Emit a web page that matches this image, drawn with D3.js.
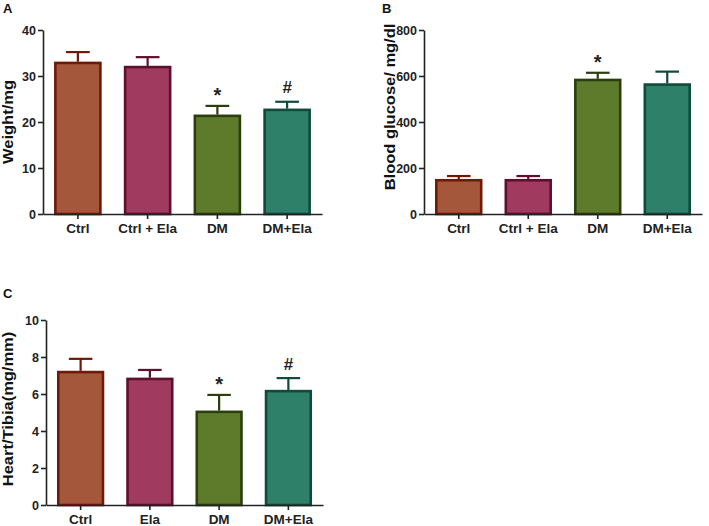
<!DOCTYPE html>
<html>
<head>
<meta charset="utf-8">
<script src="https://cdnjs.cloudflare.com/ajax/libs/d3/7.8.5/d3.min.js"></script>
<style>
	body { margin: 0; background: #fff; }
	svg { display: block; font-family: "Liberation Sans", Arial, sans-serif; font-weight: bold; }
	.axis path, .axis line { stroke: #222; stroke-width: 1.6px; }
	.axis text { fill: #222; font-size: 12.5px; font-weight: bold; }
</style>
</head>
<body>
<script>
(function() {

	// data
	var groupsAB = ["Ctrl", "Ctrl + Ela", "DM", "DM+Ela"];
	var groupsC = ["Ctrl", "Ela", "DM", "DM+Ela"];

	var weightMean = [33.1, 32.2, 21.6, 22.9];
	var weightErr = [2.1, 1.9, 1.9, 1.5];

	var glucoseMean = [152, 152, 588, 568];
	var glucoseErr = [13, 13, 26, 51];

	var heartMean = [7.25, 6.88, 5.1, 6.22];
	var heartErr = [0.65, 0.42, 0.85, 0.64];

	var marksA = ["", "", "*", "#"];
	var marksB = ["", "", "*", ""];
	var marksC = ["", "", "*", "#"];

	var ticksA = [0, 10, 20, 30, 40];
	var ticksB = [0, 200, 400, 600, 800];
	var ticksC = [0, 2, 4, 6, 8, 10];

	var fills = ["#a5573b", "#a03a5e", "#5e7b2c", "#2e8068"];
	var strokes = ["#6e1a08", "#5e0f2e", "#2b3f0e", "#0f4a3a"];


	var svg = d3.select("body")
		.append("svg")
		.attr("width", 709)
		.attr("height", 526);


	function drawPanel(p) {
		var g = svg.append("g");

		var x = d3.scaleBand()
			.domain(p.groups)
			.range([p.left, p.right])
			.paddingInner(0.32)
			.paddingOuter(0.16);

		var y = d3.scaleLinear()
			.domain([0, p.max])
			.range([p.bottom, p.top]);

		var rows = p.groups.map(function(name, i) {
			return { name: name, mean: p.mean[i], err: p.err[i], mark: p.marks[i], i: i };
		});

		// error bars (upper only), drawn first so the bar covers the stem
		var cap = x.bandwidth() * 0.5;
		var eb = g.selectAll(".err")
			.data(rows)
			.enter().append("g")
			.attr("class", "err")
			.style("stroke", function(d) { return strokes[d.i]; })
			.style("stroke-width", 2.2);

		eb.append("line")
			.attr("x1", function(d) { return x(d.name) + x.bandwidth() / 2; })
			.attr("x2", function(d) { return x(d.name) + x.bandwidth() / 2; })
			.attr("y1", function(d) { return y(d.mean); })
			.attr("y2", function(d) { return y(d.mean + d.err); });

		eb.append("line")
			.attr("x1", function(d) { return x(d.name) + x.bandwidth() / 2 - cap / 2; })
			.attr("x2", function(d) { return x(d.name) + x.bandwidth() / 2 + cap / 2; })
			.attr("y1", function(d) { return y(d.mean + d.err); })
			.attr("y2", function(d) { return y(d.mean + d.err); });

		// bars
		g.selectAll(".bar")
			.data(rows)
			.enter().append("rect")
			.attr("class", "bar")
			.attr("x", function(d) { return x(d.name) + 1.2; })
			.attr("width", x.bandwidth() - 2.4)
			.attr("y", function(d) { return y(d.mean) + 1.2; })
			.attr("height", function(d) { return y(0) - y(d.mean) - 1.2; })
			.style("fill", function(d) { return fills[d.i]; })
			.style("stroke", function(d) { return strokes[d.i]; })
			.style("stroke-width", 2.6);

		// significance marks
		g.selectAll(".mark")
			.data(rows.filter(function(d) { return d.mark; }))
			.enter().append("text")
			.attr("class", "mark")
			.attr("x", function(d) { return x(d.name) + x.bandwidth() / 2; })
			.attr("y", function(d) { return y(d.mean + d.err) - (d.mark == "*" ? 3.5 : 8.5); })
			.style("text-anchor", "middle")
			.style("font-size", function(d) { return d.mark == "*" ? "20px" : "17px"; })
			.style("fill", "#222")
			.text(function(d) { return d.mark; });

		// x axis
		g.append("g")
			.attr("class", "axis")
			.attr("transform", "translate(0," + p.bottom + ")")
			.call(d3.axisBottom(x).tickSizeInner(5).tickSizeOuter(0).tickPadding(4))
			.selectAll("text")
			.style("font-size", "13.5px");

		// y axis
		g.append("g")
			.attr("class", "axis")
			.attr("transform", "translate(" + p.left + ",0)")
			.call(d3.axisLeft(y).tickValues(p.ticks).tickSizeInner(5).tickSizeOuter(0).tickPadding(2));

		// axis title (the source figure is a little stretched vertically)
		g.append("text")
			.attr("transform", "translate(" + p.titleX + "," + p.titleY + ") rotate(-90) scale(1.1,1)")
			.style("text-anchor", "middle")
			.style("font-size", "15px")
			.style("fill", "#111")
			.text(p.title);

		// panel letter
		g.append("text")
			.attr("x", p.letterX)
			.attr("y", p.letterY)
			.style("font-size", "13px")
			.style("fill", "#111")
			.text(p.letter);
	}


	drawPanel({
		groups: groupsAB, mean: weightMean, err: weightErr, marks: marksA,
		ticks: ticksA, max: 40,
		left: 43, right: 322, top: 30, bottom: 214,
		title: "Weight/mg", titleX: 13, titleY: 122,
		letter: "A", letterX: 3, letterY: 13
	});

	drawPanel({
		groups: groupsAB, mean: glucoseMean, err: glucoseErr, marks: marksB,
		ticks: ticksB, max: 800,
		left: 424, right: 702, top: 30, bottom: 214,
		title: "Blood glucose/ mg/dl", titleX: 395, titleY: 107,
		letter: "B", letterX: 382, letterY: 13
	});

	drawPanel({
		groups: groupsC, mean: heartMean, err: heartErr, marks: marksC,
		ticks: ticksC, max: 10,
		left: 46, right: 323, top: 320, bottom: 505,
		title: "Heart/Tibia(mg/mm)", titleX: 13, titleY: 409,
		letter: "C", letterX: 3, letterY: 298
	});

})();
</script>
</body>
</html>
